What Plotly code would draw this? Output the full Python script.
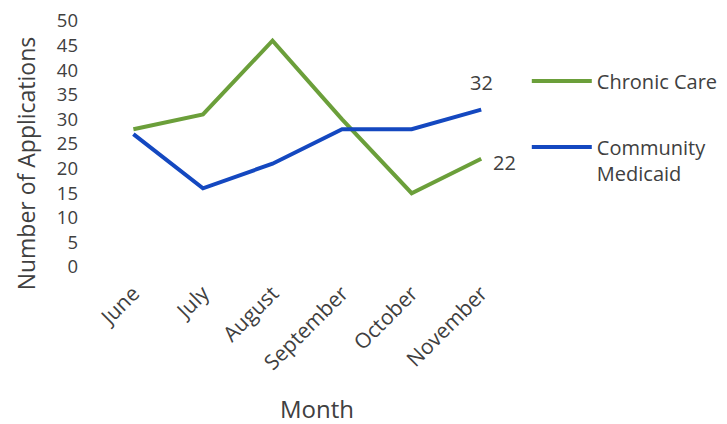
import plotly.graph_objects as go

months = ["June", "July", "August", "September", "October", "November"]
chronic_care = [28, 31, 46, 30, 15, 22]
community_medicaid = [27, 16, 21, 28, 28, 32]

GREEN = "#6b9f3a"
BLUE = "#1448c0"
FONT = "Open Sans, Lato, sans-serif"
TXT = "#404040"

fig = go.Figure()
fig.add_trace(go.Scatter(
    x=months, y=chronic_care, name="Chronic Care", legendgroup="a",
    mode="lines", line=dict(color=GREEN, width=4),
))
fig.add_trace(go.Scatter(
    x=months, y=community_medicaid, name="Community<br>Medicaid", legendgroup="b",
    mode="lines", line=dict(color=BLUE, width=4),
))

# data labels on the last point of each series
fig.add_annotation(x=months[-1], y=community_medicaid[-1], text=str(community_medicaid[-1]),
                   showarrow=False, yshift=27, font=dict(size=20, color=TXT))
fig.add_annotation(x=months[-1], y=chronic_care[-1], text=str(chronic_care[-1]),
                   showarrow=False, xshift=23, yshift=-4, font=dict(size=20, color=TXT))

# axis titles as annotations so they can sit off-centre like the original
fig.add_annotation(xref="paper", yref="paper", x=-0.135, y=0.42, text="Number of Applications",
                   textangle=-90, showarrow=False, xanchor="center", yanchor="middle",
                   font=dict(size=23, color=TXT))
fig.add_annotation(xref="paper", yref="paper", x=0.54, y=-0.575, text="Month",
                   showarrow=False, xanchor="center", yanchor="middle",
                   font=dict(size=24, color=TXT))

# page body adds an 8px offset, so margins are set short on top/left
fig.update_layout(
    width=727, height=424,
    margin=dict(l=76, r=216, t=13, b=165),
    paper_bgcolor="white", plot_bgcolor="white",
    font=dict(family=FONT, color=TXT),
    legend=dict(x=1.025, y=0.835, xanchor="left", yanchor="top",
                traceorder="grouped", tracegroupgap=37, valign="top",
                itemwidth=60, font=dict(size=20, color=TXT)),
    xaxis=dict(
        range=[-0.71, 5.5], showgrid=False, showline=False, zeroline=False,
        tickangle=-45, tickfont=dict(size=21, color=TXT), ticks="", automargin=False,
        ticklabelstandoff=9, ticklabeloverflow="allow",
    ),
    yaxis=dict(
        range=[0, 50], dtick=5, showgrid=False, showline=False, zeroline=False,
        tickfont=dict(size=18.5, color=TXT), ticks="", automargin=False,
        ticklabelstandoff=5, ticklabeloverflow="allow",
    ),
)

fig.write_html("out.html")
